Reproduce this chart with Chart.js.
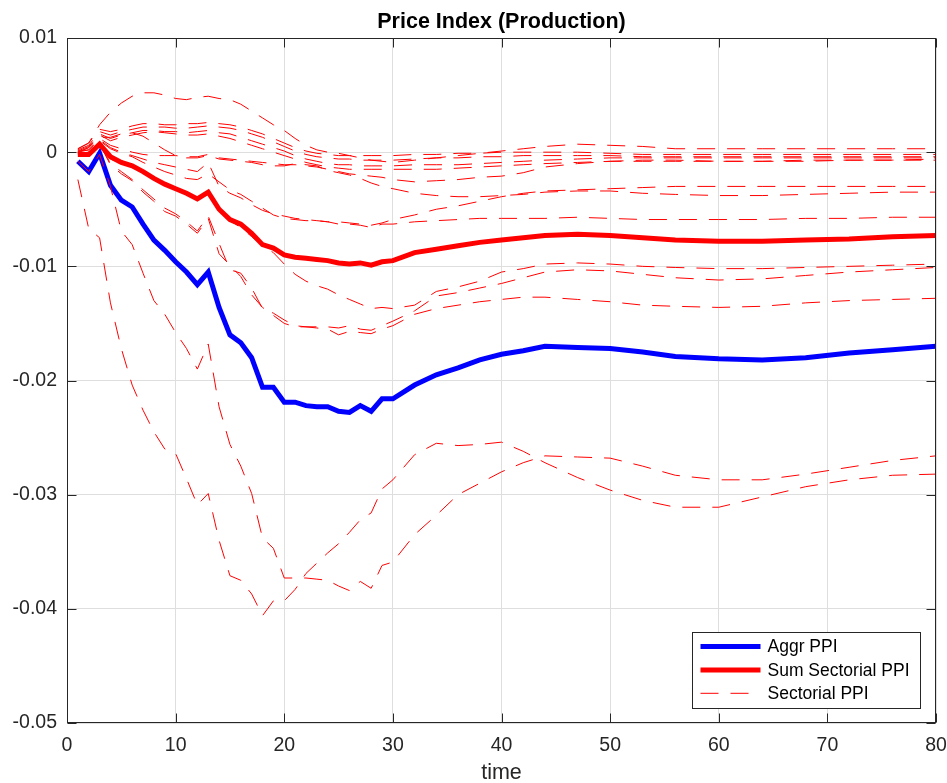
<!DOCTYPE html>
<html>
<head>
<meta charset="utf-8">
<title>Price Index (Production)</title>
<script src="https://cdn.jsdelivr.net/npm/chart.js@4.4.0/dist/chart.umd.min.js"></script>
<style>
  html, body { margin: 0; padding: 0; background: #ffffff; }
  #wrap { width: 947px; height: 783px; }
</style>
</head>
<body>
<div id="wrap"><canvas id="ppiChart" width="947" height="783"></canvas></div>
<script>
// time periods (every period up to 30, sparser where the curves are smooth)
const time = [1, 2, 3, 4, 5, 6, 7, 8, 9, 10,
              11, 12, 13, 14, 15, 16, 17, 18, 19, 20,
              21, 22, 23, 24, 25, 26, 27, 28, 29, 30,
              32, 34, 36, 38, 40, 42, 44, 47, 50, 53, 56, 60, 64, 68, 72, 76, 80];

const xTicks = [0, 10, 20, 30, 40, 50, 60, 70, 80];
const yTicks = [0.01, 0, -0.01, -0.02, -0.03, -0.04, -0.05];

// Aggr PPI (blue, thick)
const aggrPPI = [
  -0.0008, -0.0017, -0.0001, -0.0029, -0.0042, -0.0048, -0.0063, -0.0077, -0.0086, -0.0096,
  -0.0105, -0.0116, -0.0105, -0.0136, -0.0160, -0.0167, -0.0180, -0.0206, -0.0206, -0.0219,
  -0.0219, -0.0222, -0.0223, -0.0223, -0.0227, -0.0228, -0.0222, -0.0227, -0.0216, -0.0216,
  -0.0204, -0.0195, -0.0189, -0.0182, -0.0177, -0.0174, -0.0170, -0.0171, -0.0172, -0.0175,
  -0.0179, -0.0181, -0.0182, -0.0180, -0.0176, -0.0173, -0.0170];

// Sum Sectorial PPI (red, thick)
const sumSectorialPPI = [
  -0.0002, -0.0002, 0.0007, -0.0004, -0.0009, -0.0012, -0.0017, -0.0023, -0.0028, -0.0032,
  -0.0036, -0.0041, -0.0035, -0.0050, -0.0059, -0.0063, -0.0071, -0.0081, -0.0084, -0.0090,
  -0.0092, -0.0093, -0.0094, -0.0095, -0.0097, -0.0098, -0.0097, -0.0099, -0.0096, -0.0095,
  -0.0088, -0.0085, -0.0082, -0.0079, -0.0077, -0.0075, -0.0073, -0.0072, -0.0073, -0.0075,
  -0.0077, -0.0078, -0.0078, -0.0077, -0.0076, -0.0074, -0.0073];

// Sectorial PPI (red, dashed), one array per sector
const sector1 = [
  0.0003, 0.0008, 0.0024, 0.0035, 0.0043, 0.0049, 0.0052, 0.0052, 0.0050, 0.0047,
  0.0046, 0.0048, 0.0049, 0.0047, 0.0046, 0.0042, 0.0036, 0.0030, 0.0024, 0.0019,
  0.0012, 0.0006, 0.0002, 0.0000, -0.0001, -0.0003, -0.0005, -0.0007, -0.0008, -0.0009,
  -0.0007, -0.0005, -0.0003, -0.0001, 0.0001, 0.0003, 0.0005, 0.0007, 0.0006, 0.0005,
  0.0003, 0.0003, 0.0003, 0.0003, 0.0003, 0.0003, 0.0003];
const sector2 = [
  0.0003, 0.0008, 0.0020, 0.0018, 0.0020, 0.0023, 0.0025, 0.0025, 0.0024, 0.0024,
  0.0025, 0.0025, 0.0026, 0.0025, 0.0024, 0.0022, 0.0019, 0.0016, 0.0012, 0.0008,
  0.0004, 0.0001, -0.0001, -0.0002, -0.0003, -0.0003, -0.0003, -0.0003, -0.0003, -0.0003,
  -0.0002, -0.0002, -0.0001, -0.0001, 0.0000, 0.0000, 0.0000, 0.0000, -0.0001, -0.0002,
  -0.0002, -0.0002, -0.0002, -0.0002, -0.0002, -0.0002, -0.0002];
const sector3 = [
  0.0002, 0.0006, 0.0018, 0.0015, 0.0018, 0.0020, 0.0022, 0.0022, 0.0022, 0.0021,
  0.0021, 0.0022, 0.0023, 0.0022, 0.0021, 0.0019, 0.0016, 0.0013, 0.0009, 0.0005,
  0.0001, -0.0002, -0.0004, -0.0005, -0.0006, -0.0006, -0.0007, -0.0007, -0.0007, -0.0007,
  -0.0006, -0.0005, -0.0005, -0.0004, -0.0004, -0.0003, -0.0003, -0.0003, -0.0003, -0.0004,
  -0.0004, -0.0004, -0.0004, -0.0004, -0.0004, -0.0004, -0.0004];
const sector4 = [
  0.0001, 0.0005, 0.0016, 0.0012, 0.0015, 0.0017, 0.0019, 0.0019, 0.0018, 0.0018,
  0.0017, 0.0018, 0.0019, 0.0017, 0.0016, 0.0013, 0.0010, 0.0007, 0.0004, 0.0001,
  -0.0003, -0.0006, -0.0008, -0.0010, -0.0011, -0.0011, -0.0012, -0.0012, -0.0012, -0.0012,
  -0.0011, -0.0011, -0.0011, -0.0010, -0.0009, -0.0008, -0.0007, -0.0006, -0.0005, -0.0005,
  -0.0005, -0.0005, -0.0005, -0.0005, -0.0005, -0.0005, -0.0005];
const sector5 = [
  0.0000, 0.0004, 0.0015, 0.0010, 0.0013, 0.0015, 0.0017, 0.0018, 0.0017, 0.0016,
  0.0015, 0.0015, 0.0016, 0.0014, 0.0012, 0.0009, 0.0006, 0.0003, 0.0000, -0.0003,
  -0.0006, -0.0009, -0.0011, -0.0013, -0.0014, -0.0015, -0.0015, -0.0015, -0.0015, -0.0015,
  -0.0015, -0.0015, -0.0014, -0.0013, -0.0012, -0.0011, -0.0010, -0.0009, -0.0008, -0.0008,
  -0.0008, -0.0008, -0.0008, -0.0007, -0.0007, -0.0007, -0.0007];
const sector6 = [
  0.0000, 0.0004, 0.0013, 0.0013, 0.0016, 0.0017, 0.0014, 0.0008, 0.0002, -0.0003,
  -0.0005, -0.0005, -0.0003, -0.0006, -0.0007, -0.0008, -0.0009, -0.0011, -0.0012, -0.0012,
  -0.0010, -0.0011, -0.0012, -0.0016, -0.0018, -0.0020, -0.0023, -0.0027, -0.0030, -0.0032,
  -0.0036, -0.0038, -0.0039, -0.0039, -0.0038, -0.0037, -0.0035, -0.0034, -0.0034, -0.0036,
  -0.0037, -0.0038, -0.0038, -0.0037, -0.0036, -0.0035, -0.0035];
const sector7 = [
  0.0001, 0.0002, 0.0012, 0.0006, 0.0003, 0.0000, -0.0002, -0.0003, -0.0003, -0.0003,
  -0.0004, -0.0004, -0.0002, -0.0005, -0.0006, -0.0007, -0.0008, -0.0009, -0.0010, -0.0011,
  -0.0011, -0.0012, -0.0013, -0.0015, -0.0017, -0.0019, -0.0020, -0.0021, -0.0022, -0.0024,
  -0.0026, -0.0025, -0.0024, -0.0022, -0.0021, -0.0018, -0.0013, -0.0010, -0.0008, -0.0007,
  -0.0007, -0.0008, -0.0008, -0.0008, -0.0007, -0.0007, -0.0006];
const sector8 = [
  -0.0001, 0.0000, 0.0010, 0.0003, -0.0001, -0.0004, -0.0009, -0.0013, -0.0017, -0.0020,
  -0.0023, -0.0024, -0.0019, -0.0026, -0.0033, -0.0037, -0.0043, -0.0049, -0.0055, -0.0058,
  -0.0059, -0.0060, -0.0060, -0.0061, -0.0063, -0.0063, -0.0064, -0.0066, -0.0063, -0.0063,
  -0.0061, -0.0060, -0.0059, -0.0058, -0.0058, -0.0058, -0.0058, -0.0057, -0.0058, -0.0059,
  -0.0059, -0.0059, -0.0059, -0.0058, -0.0058, -0.0057, -0.0057];
const sector9 = [
  0.0000, 0.0002, 0.0011, 0.0004, 0.0000, -0.0003, -0.0006, -0.0009, -0.0011, -0.0013,
  -0.0015, -0.0017, -0.0009, -0.0030, -0.0036, -0.0040, -0.0046, -0.0051, -0.0054, -0.0056,
  -0.0058, -0.0059, -0.0060, -0.0061, -0.0061, -0.0062, -0.0063, -0.0064, -0.0062, -0.0059,
  -0.0055, -0.0050, -0.0047, -0.0043, -0.0039, -0.0036, -0.0034, -0.0033, -0.0032, -0.0031,
  -0.0030, -0.0030, -0.0030, -0.0030, -0.0030, -0.0030, -0.0030];
const sector10 = [
  -0.0002, -0.0003, 0.0006, -0.0006, -0.0010, -0.0013, -0.0018, -0.0024, -0.0029, -0.0033,
  -0.0037, -0.0042, -0.0036, -0.0052, -0.0060, -0.0066, -0.0074, -0.0082, -0.0088, -0.0098,
  -0.0107, -0.0113, -0.0117, -0.0120, -0.0125, -0.0129, -0.0133, -0.0137, -0.0136, -0.0137,
  -0.0134, -0.0122, -0.0118, -0.0113, -0.0105, -0.0102, -0.0098, -0.0097, -0.0098, -0.0100,
  -0.0101, -0.0102, -0.0102, -0.0101, -0.0100, -0.0099, -0.0098];
const sector11 = [
  0.0000, -0.0002, 0.0008, -0.0010, -0.0017, -0.0024, -0.0033, -0.0041, -0.0049, -0.0054,
  -0.0061, -0.0069, -0.0056, -0.0080, -0.0103, -0.0106, -0.0119, -0.0137, -0.0141, -0.0147,
  -0.0152, -0.0153, -0.0153, -0.0153, -0.0154, -0.0152, -0.0155, -0.0156, -0.0152, -0.0148,
  -0.0139, -0.0126, -0.0123, -0.0119, -0.0115, -0.0110, -0.0105, -0.0103, -0.0104, -0.0107,
  -0.0110, -0.0112, -0.0111, -0.0108, -0.0105, -0.0103, -0.0101];
const sector12 = [
  -0.0001, -0.0003, 0.0007, -0.0011, -0.0019, -0.0025, -0.0035, -0.0043, -0.0052, -0.0056,
  -0.0063, -0.0071, -0.0058, -0.0089, -0.0099, -0.0109, -0.0125, -0.0136, -0.0143, -0.0150,
  -0.0153, -0.0153, -0.0154, -0.0155, -0.0160, -0.0157, -0.0158, -0.0159, -0.0155, -0.0152,
  -0.0142, -0.0137, -0.0134, -0.0131, -0.0129, -0.0127, -0.0127, -0.0129, -0.0131, -0.0134,
  -0.0135, -0.0136, -0.0135, -0.0132, -0.0130, -0.0129, -0.0128];
const sector13 = [
  -0.0008, -0.0017, -0.0002, -0.0030, -0.0069, -0.0081, -0.0106, -0.0130, -0.0142, -0.0158,
  -0.0172, -0.0190, -0.0168, -0.0223, -0.0256, -0.0275, -0.0299, -0.0338, -0.0347, -0.0373,
  -0.0373, -0.0373, -0.0374, -0.0375, -0.0380, -0.0384, -0.0376, -0.0382, -0.0362, -0.0359,
  -0.0335, -0.0318, -0.0300, -0.0290, -0.0280, -0.0272, -0.0266, -0.0267, -0.0268, -0.0275,
  -0.0283, -0.0287, -0.0287, -0.0282, -0.0276, -0.0270, -0.0266];
const sector14 = [
  -0.0024, -0.0067, -0.0075, -0.0132, -0.0172, -0.0204, -0.0226, -0.0245, -0.0260, -0.0264,
  -0.0286, -0.0309, -0.0299, -0.0340, -0.0371, -0.0375, -0.0387, -0.0406, -0.0393, -0.0393,
  -0.0383, -0.0369, -0.0360, -0.0351, -0.0343, -0.0333, -0.0322, -0.0316, -0.0295, -0.0287,
  -0.0265, -0.0255, -0.0257, -0.0256, -0.0254, -0.0262, -0.0272, -0.0285, -0.0296, -0.0305,
  -0.0311, -0.0311, -0.0302, -0.0293, -0.0287, -0.0283, -0.0282];

const sectors = [sector1, sector2, sector3, sector4, sector5, sector6, sector7,
                 sector8, sector9, sector10, sector11, sector12, sector13, sector14];

const FONT = '"Liberation Sans", Arial, Helvetica, sans-serif';
const AXIS_COLOR = '#262626';
const DASH = [18, 12];

function toPoints(values) {
  return values.map((v, i) => ({ x: time[i], y: v }));
}

const datasets = [];
// dashed sector lines go on top (lowest order)
sectors.forEach((s, i) => {
  datasets.push({
    label: 'Sectorial PPI ' + (i + 1),
    data: toPoints(s),
    borderColor: '#ff0000',
    borderWidth: 1,
    borderDash: DASH,
    pointRadius: 0,
    tension: 0,
    order: 0
  });
});
datasets.push({
  label: 'Sum Sectorial PPI',
  data: toPoints(sumSectorialPPI),
  borderColor: '#ff0000',
  borderWidth: 5,
  pointRadius: 0,
  tension: 0,
  order: 1
});
datasets.push({
  label: 'Aggr PPI',
  data: toPoints(aggrPPI),
  borderColor: '#0000ff',
  borderWidth: 5,
  pointRadius: 0,
  tension: 0,
  order: 2
});

// MATLAB style frame: box, inward ticks, title and legend inside the axes
const matlabFrame = {
  id: 'matlabFrame',
  afterDraw(chart) {
    const { ctx, chartArea: a, scales } = chart;
    const L = Math.round(a.left) + 0.5, R = Math.round(a.right) - 0.5;
    const T = Math.round(a.top) + 0.5, B = Math.round(a.bottom) - 0.5;
    const tick = 9;
    ctx.save();
    ctx.strokeStyle = AXIS_COLOR;
    ctx.lineWidth = 1;
    ctx.strokeRect(L, T, R - L, B - T);
    ctx.beginPath();
    xTicks.forEach(v => {
      const px = Math.round(scales.x.getPixelForValue(v)) + 0.5;
      ctx.moveTo(px, B); ctx.lineTo(px, B - tick);
      ctx.moveTo(px, T); ctx.lineTo(px, T + tick);
    });
    yTicks.forEach(v => {
      const py = Math.round(scales.y.getPixelForValue(v)) + 0.5;
      ctx.moveTo(L, py); ctx.lineTo(L + tick, py);
      ctx.moveTo(R, py); ctx.lineTo(R - tick, py);
    });
    ctx.stroke();

    // title
    ctx.fillStyle = '#000000';
    ctx.font = 'bold 21.5px ' + FONT;
    ctx.textAlign = 'center';
    ctx.textBaseline = 'middle';
    ctx.fillText('Price Index (Production)', (a.left + a.right) / 2, 22);

    // legend box, bottom right inside the axes
    const bw = 228, bh = 76;
    const bx = Math.round(a.right) - 16 - bw + 0.5;
    const by = Math.round(a.bottom) - 15 - bh + 0.5;
    ctx.fillStyle = '#ffffff';
    ctx.fillRect(bx, by, bw, bh);
    ctx.strokeStyle = AXIS_COLOR;
    ctx.strokeRect(bx, by, bw, bh);
    const entries = [
      { text: 'Aggr PPI', color: '#0000ff', width: 5, dash: [] },
      { text: 'Sum Sectorial PPI', color: '#ff0000', width: 5, dash: [] },
      { text: 'Sectorial PPI', color: '#ff0000', width: 1, dash: DASH }
    ];
    ctx.font = '17.5px ' + FONT;
    ctx.textAlign = 'left';
    entries.forEach((e, i) => {
      const yy = by + 14 + i * 23.4;
      ctx.beginPath();
      ctx.strokeStyle = e.color;
      ctx.lineWidth = e.width;
      ctx.setLineDash(e.dash);
      ctx.moveTo(bx + 8, yy);
      ctx.lineTo(bx + 68, yy);
      ctx.stroke();
      ctx.setLineDash([]);
      ctx.fillStyle = '#000000';
      ctx.fillText(e.text, bx + 75, yy + 1);
    });
    ctx.restore();
  }
};

new Chart(document.getElementById('ppiChart').getContext('2d'), {
  type: 'line',
  data: { datasets: datasets },
  options: {
    responsive: false,
    animation: false,
    events: [],
    layout: { padding: { top: 38, right: 11, left: 0, bottom: 0 } },
    plugins: {
      legend: { display: false },
      title: { display: false },
      tooltip: { enabled: false }
    },
    scales: {
      x: {
        type: 'linear',
        min: 0,
        max: 80,
        afterBuildTicks: scale => { scale.ticks = xTicks.map(v => ({ value: v })); },
        afterFit: scale => {
          scale.height = 60;
          scale.paddingLeft = 0;
          scale.paddingRight = 0;
        },
        ticks: {
          color: AXIS_COLOR,
          font: { family: FONT, size: 19.5 },
          padding: 11,
          maxRotation: 0
        },
        grid: { color: '#dedede', drawTicks: false },
        border: { display: false },
        title: {
          display: true,
          text: 'time',
          color: AXIS_COLOR,
          font: { family: FONT, size: 21.5 },
          padding: { top: 0, bottom: -3 }
        }
      },
      y: {
        type: 'linear',
        min: -0.05,
        max: 0.01,
        afterBuildTicks: scale => { scale.ticks = yTicks.map(v => ({ value: v })); },
        afterFit: scale => {
          scale.width = 67;
          scale.paddingTop = 0;
          scale.paddingBottom = 0;
        },
        ticks: {
          color: AXIS_COLOR,
          font: { family: FONT, size: 19.5 },
          padding: 10,
          callback: v => {
            const r = Math.round(v * 100) / 100;
            return r === 0 ? '0' : String(r);
          }
        },
        grid: { color: '#dedede', drawTicks: false },
        border: { display: false }
      }
    }
  },
  plugins: [matlabFrame]
});
</script>
</body>
</html>
